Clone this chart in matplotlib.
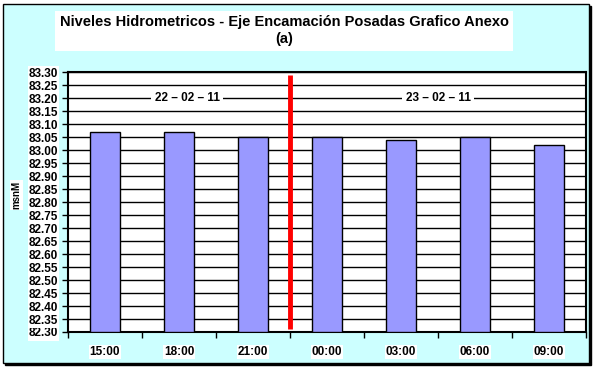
import numpy as np
import matplotlib
matplotlib.use("Agg")
import matplotlib.pyplot as plt
from matplotlib.patches import Rectangle

plt.rcParams['font.family'] = ['Liberation Sans', 'DejaVu Sans']

# datos
horas = ["15:00", "18:00", "21:00", "00:00", "03:00", "06:00", "09:00"]
niveles = [83.07, 83.07, 83.05, 83.05, 83.04, 83.05, 83.02]
fechas = ["22 – 02 – 11", "23 – 02 – 11"]
fecha_pos = [1.11, 4.5]
corte_dia = 2.5
corte_min, corte_max = 82.31, 83.29
y_min, y_max = 82.30, 83.30

W, H = 595, 373
fig = plt.figure(figsize=(W / 100, H / 100), dpi=100, facecolor="white")

# marco del grafico con sombra (estilo excel)
fig.patches.append(Rectangle((5 / W, 1 - 365 / H), 586 / W, 359 / H,
                             transform=fig.transFigure, facecolor="black",
                             edgecolor="black", zorder=-3))
fig.patches.append(Rectangle((3 / W, 1 - 363 / H), 586 / W, 359 / H,
                             transform=fig.transFigure, facecolor="#CCFFFF",
                             edgecolor="black", linewidth=1, zorder=-2))

ax = fig.add_axes([68 / W, 1 - 332 / H, 518 / W, 260 / H])
ax.set_facecolor("white")

x = np.arange(len(horas))
base = y_min
ax.bar(x, np.array(niveles) - base, bottom=base, width=0.4,
       color="#9999FF", edgecolor="black", linewidth=1.0, zorder=3)

ax.vlines(corte_dia, corte_min, corte_max, color="#FF0000", linewidth=3.5,
          zorder=4)

for txt, px in zip(fechas, fecha_pos):
    ax.text(px, 83.20, txt, ha="center", va="center", fontsize=8.5,
            fontweight="bold", zorder=5,
            bbox=dict(facecolor="white", edgecolor="none", pad=2.5))

ax.set_xlim(-0.5, len(horas) - 0.5)
ax.set_ylim(y_min, y_max)
yt = np.arange(y_min, y_max + 0.001, 0.05)
ax.set_yticks(yt)
ax.set_yticklabels([f"{v:.2f}" for v in yt], fontsize=8.5, fontweight="bold")
ax.set_xticks(x)
ax.set_xticklabels(horas, fontsize=8.5, fontweight="bold")
ax.set_xticks(np.arange(-0.5, len(horas)), minor=True)
ax.tick_params(axis="x", which="major", length=0, pad=10)
ax.tick_params(axis="x", which="minor", length=4, width=1, direction="out")
ax.tick_params(axis="y", length=4, width=1, direction="out", pad=3)

for lbl in ax.get_yticklabels() + ax.get_xticklabels():
    lbl.set_bbox(dict(facecolor="white", edgecolor="none", pad=0.8))

ax.grid(axis="y", color="black", linewidth=1.0, zorder=1)
ax.set_axisbelow(True)
for s in ax.spines.values():
    s.set_linewidth(1.5)

ax.set_ylabel("msnM", fontsize=7, fontweight="bold",
              bbox=dict(facecolor="white", edgecolor="none", pad=1))
ax.yaxis.set_label_coords(-0.09, 0.527)

fig.text(284 / W, 1 - 15 / H,
         "Niveles Hidrometricos - Eje Encamación Posadas Grafico Anexo\n(a)",
         ha="center", va="top", fontsize=10.5, fontweight="bold",
         linespacing=1.3, zorder=5,
         bbox=dict(facecolor="white", edgecolor="none", pad=3))

fig.savefig("out.png", dpi=100, facecolor="white")
